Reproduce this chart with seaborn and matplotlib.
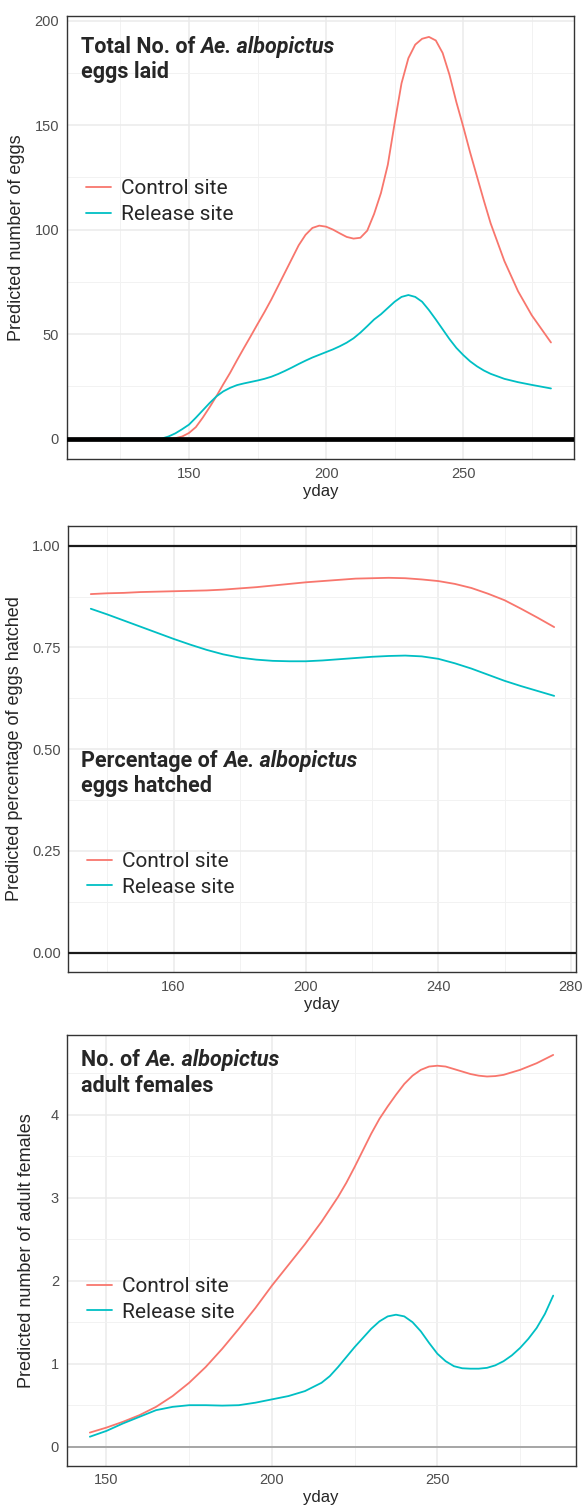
import numpy as np
import pandas as pd
import matplotlib
matplotlib.use("Agg")
import matplotlib.pyplot as plt
from matplotlib.ticker import MultipleLocator
import seaborn as sns

# ---- panel 1 : total eggs laid ----
eggs_yday = [114, 125, 135, 140,
             142.5, 145, 147.5, 150, 152.5, 155, 157.5, 160, 162.5, 165, 167.5, 170,
             172.5, 175, 177.5, 180, 182.5, 185, 187.5, 190, 192.5, 195, 197.5, 200,
             202.5, 205, 207.5, 210, 212.5, 215, 217.5, 220, 222.5, 225, 227.5, 230,
             232.5, 235, 237.5, 240, 242.5, 245, 247.5, 250, 252.5, 255, 257.5, 260,
             265, 270, 275, 282]
eggs_control = [0, 0, 0, 0,
                0, 0.2, 1.0, 2.7, 5.5, 10, 15, 20.3, 26, 31.5, 37.5, 43.3,
                49, 54.8, 60.5, 66.5, 73, 79.5, 86, 92.5, 97.5, 100.8, 101.9, 101.4,
                100, 98.2, 96.5, 95.7, 96.1, 99.5, 107.5, 117.5, 131, 151, 170, 182,
                188.5, 191.3, 192.2, 190.5, 184.5, 174, 161, 149.3, 137, 125.5, 114, 103,
                85, 70.5, 59, 46]
eggs_release = [0, 0, 0, 0,
                1.0, 2.5, 4.5, 6.7, 10, 13.5, 17, 20.2, 22.6, 24.3, 25.6, 26.4,
                27.1, 27.8, 28.6, 29.6, 30.9, 32.4, 34, 35.7, 37.3, 38.8, 40.1, 41.4,
                42.7, 44.2, 45.9, 48, 50.7, 53.8, 57, 59.5, 62.5, 65.5, 67.8, 68.7,
                67.8, 65.5, 61.5, 57, 52.3, 47.6, 43.4, 40, 37, 34.6, 32.6, 31,
                28.6, 27, 25.7, 24]

# ---- panel 2 : percentage hatched ----
hatch_yday = [135, 140, 145, 150, 155, 160, 165, 170, 175, 180, 185, 190, 195, 200, 205,
              210, 215, 220, 225, 230, 235, 240, 245, 250, 255, 260, 265, 270, 275]
hatch_control = [0.881, 0.883, 0.884, 0.886, 0.887, 0.888, 0.889, 0.890, 0.892, 0.895, 0.898,
                 0.902, 0.906, 0.910, 0.913, 0.916, 0.919, 0.920, 0.921, 0.920, 0.917, 0.913,
                 0.906, 0.896, 0.882, 0.866, 0.845, 0.823, 0.800]
hatch_release = [0.845, 0.831, 0.816, 0.801, 0.786, 0.771, 0.757, 0.744, 0.733, 0.725, 0.720,
                 0.717, 0.716, 0.716, 0.718, 0.721, 0.724, 0.727, 0.729, 0.730, 0.728, 0.722,
                 0.711, 0.698, 0.683, 0.668, 0.655, 0.643, 0.631]

# ---- panel 3 : adult females ----
fem_yday = [145, 150, 155, 160, 165, 170, 175, 180, 185, 190, 195, 200, 205, 210, 215,
            217.5, 220, 222.5, 225, 227.5, 230, 232.5, 235, 237.5, 240, 242.5, 245, 247.5,
            250, 252.5, 255, 257.5, 260, 262.5, 265, 267.5, 270, 272.5, 275, 277.5, 280,
            282.5, 285]
fem_control = [0.17, 0.23, 0.30, 0.38, 0.48, 0.61, 0.77, 0.96, 1.18, 1.42, 1.67, 1.94, 2.19,
               2.44, 2.71,
               2.86, 3.01, 3.18, 3.37, 3.57, 3.77, 3.95, 4.10, 4.24, 4.37, 4.47, 4.54, 4.58,
               4.59, 4.58, 4.55, 4.52, 4.49, 4.47, 4.46, 4.465, 4.48, 4.51, 4.54, 4.58, 4.62,
               4.67, 4.72]
fem_release = [0.12, 0.19, 0.28, 0.36, 0.44, 0.48, 0.50, 0.50, 0.495, 0.50, 0.53, 0.57, 0.61,
               0.67, 0.77,
               0.85, 0.96, 1.08, 1.20, 1.31, 1.42, 1.51, 1.57, 1.59, 1.57, 1.50, 1.39, 1.25,
               1.12, 1.03, 0.97, 0.945, 0.94, 0.94, 0.95, 0.98, 1.03, 1.10, 1.19, 1.30, 1.43,
               1.60, 1.82]

sites = ['Control site', 'Release site']
site_colors = ['#F8766D', '#00BFC4']

sns.set_style("white")
plt.rcParams['font.family'] = ['Liberation Sans', 'DejaVu Sans']

W, H = 583, 1505
fig = plt.figure(figsize=(W / 100, H / 100), dpi=100)


def px_axes(left, top, right, bottom):
    # axes box given in pixels from the top-left corner
    return fig.add_axes([left / W, 1 - bottom / H, (right - left) / W, (bottom - top) / H])


def long_df(yday, control, release):
    return pd.DataFrame({
        'yday': yday + yday,
        'value': control + release,
        'site': [sites[0]] * len(yday) + [sites[1]] * len(yday),
    })


def style_panel(ax, xlim, ylim, xmaj, xmin, ymaj, ymin, ylabel, yfmt=None):
    ax.set_xlim(*xlim)
    ax.set_ylim(*ylim)
    ax.xaxis.set_major_locator(MultipleLocator(xmaj))
    ax.xaxis.set_minor_locator(MultipleLocator(xmin))
    ax.yaxis.set_major_locator(MultipleLocator(ymaj))
    ax.yaxis.set_minor_locator(MultipleLocator(ymin))
    if yfmt:
        ax.yaxis.set_major_formatter(yfmt)
    ax.grid(True, which='major', color='#EBEBEB', lw=1.1, zorder=0)
    ax.grid(True, which='minor', color='#F2F2F2', lw=0.7, zorder=0)
    ax.set_axisbelow(True)
    for s in ax.spines.values():
        s.set_color('#333333')
        s.set_linewidth(1.0)
    ax.tick_params(which='major', length=3.5, width=1.0, color='#333333',
                   labelsize=10.5, labelcolor='#4D4D4D', pad=2)
    ax.tick_params(which='minor', length=0)
    ax.set_xlabel('yday', fontsize=12, labelpad=2)
    ax.set_ylabel(ylabel, fontsize=13)


def panel_legend(ax, x_px, y_px):
    handles, labels = ax.get_legend_handles_labels()
    ax.legend(handles, labels, loc='center left',
              bbox_to_anchor=(x_px / W, 1 - y_px / H), bbox_transform=fig.transFigure,
              frameon=False, borderpad=0, borderaxespad=0, handlelength=1.2,
              handletextpad=0.5, labelspacing=0.32,
              prop={'family': 'Roboto', 'size': 15})


def panel_title(x_px, base1, base2, lead, italic, line2):
    renderer = fig.canvas.get_renderer()
    kw = dict(family='Roboto', fontweight='bold', fontsize=15.5, va='baseline', ha='left')
    t1 = fig.text(x_px / W, 1 - base1 / H, lead, **kw)
    bb = t1.get_window_extent(renderer)
    fig.text((bb.x1 + 5) / W, 1 - base1 / H, italic, style='italic', **kw)
    fig.text(x_px / W, 1 - base2 / H, line2, **kw)


# ---------------- panel 1 ----------------
ax1 = px_axes(66.7, 16, 574, 459.3)
sns.lineplot(data=long_df(eggs_yday, eggs_control, eggs_release), x='yday', y='value',
             hue='site', hue_order=sites, palette=site_colors, lw=1.3, ax=ax1, zorder=3)
ax1.axhline(0, color='black', lw=3.4, zorder=4)
style_panel(ax1, (105.4, 290.4), (-9.9, 202.2), 50, 25, 50, 25, 'Predicted number of eggs')
ax1.yaxis.set_label_coords(-0.082, 0.5)
panel_legend(ax1, 85.6, 201.5)
panel_title(81, 52.7, 78, 'Total No. of', 'Ae. albopictus', 'eggs laid')

# ---------------- panel 2 ----------------
ax2 = px_axes(68.3, 525.7, 576, 972.3)
sns.lineplot(data=long_df(hatch_yday, hatch_control, hatch_release), x='yday', y='value',
             hue='site', hue_order=sites, palette=site_colors, lw=1.3, ax=ax2, zorder=3)
ax2.axhline(0, color='#1A1A1A', lw=1.6, zorder=4)
ax2.axhline(1, color='#1A1A1A', lw=1.6, zorder=4)
style_panel(ax2, (128.2, 281.6), (-0.048, 1.049), 40, 20, 0.25, 0.125,
            'Predicted percentage of eggs hatched', yfmt=lambda v, p: f'{v:.2f}')
ax2.yaxis.set_label_coords(-0.09, 0.5)
panel_legend(ax2, 86.7, 874.3)
panel_title(81, 766.7, 792, 'Percentage of', 'Ae. albopictus', 'eggs hatched')

# ---------------- panel 3 ----------------
ax3 = px_axes(66.7, 1035, 575.7, 1465.7)
sns.lineplot(data=long_df(fem_yday, fem_control, fem_release), x='yday', y='value',
             hue='site', hue_order=sites, palette=site_colors, lw=1.3, ax=ax3, zorder=3)
ax3.axhline(0, color='#A6A6A6', lw=1.4, zorder=2)
style_panel(ax3, (138.0, 291.8), (-0.229, 4.96), 50, 25, 1, 0.5,
            'Predicted number of adult females')
ax3.yaxis.set_label_coords(-0.062, 0.5)
panel_legend(ax3, 86.7, 1299.3)
panel_title(81, 1066, 1092, 'No. of', 'Ae. albopictus', 'adult females')

fig.savefig('out.png', dpi=100)
